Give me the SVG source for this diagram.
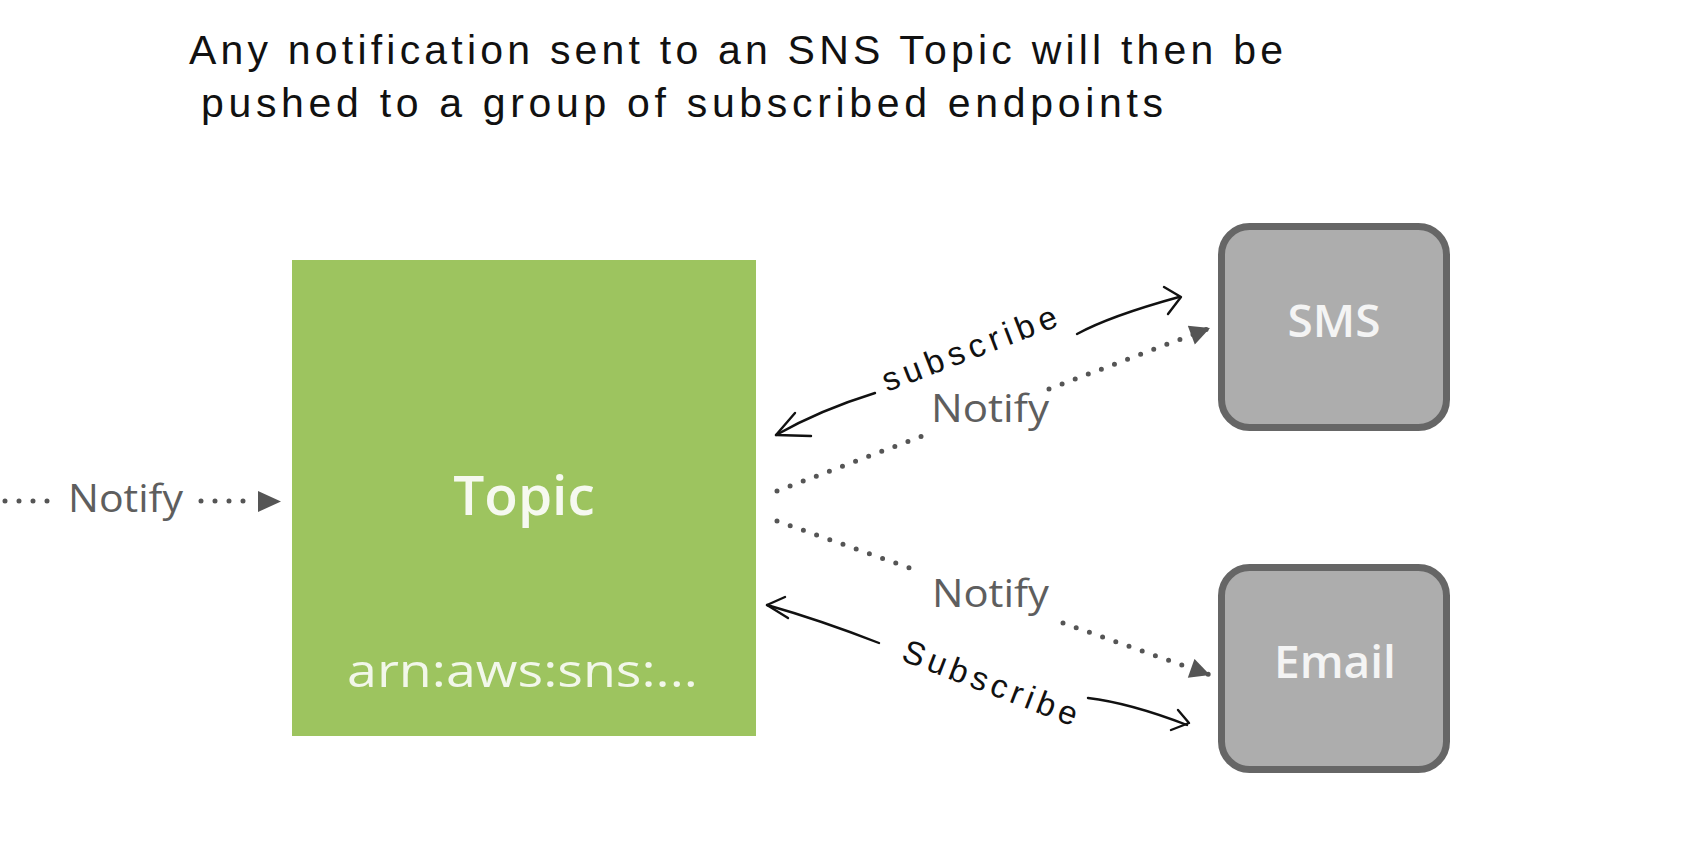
<svg xmlns="http://www.w3.org/2000/svg" width="1692" height="860" viewBox="0 0 1692 860">
<style>
.hand{font-family:"Liberation Sans",Arial,sans-serif;font-size:41px;fill:#111}
.sub{font-family:"Liberation Sans",Arial,sans-serif;font-size:33px;fill:#111}
.notify{font-family:"Open Sans","Liberation Sans",sans-serif;font-size:38px;fill:#5e5e5e}
.dots{stroke:#555;stroke-width:5;stroke-linecap:round;stroke-dasharray:0 14;fill:none}
.ink{stroke:#111;stroke-width:2.4;fill:none;stroke-linecap:round;stroke-linejoin:round}
.box{fill:#adadad;stroke:#666;stroke-width:7}
.boxlabel{font-family:"Open Sans","Liberation Sans",sans-serif;font-size:46px;font-weight:600;fill:#f4f4f4;text-anchor:middle}
</style>
<defs>
<marker id="tri" viewBox="0 0 10 10" refX="10" refY="5" markerUnits="userSpaceOnUse" markerWidth="22" markerHeight="20" orient="auto">
<path d="M0,0 L10,5 L0,10 z" fill="#555"/>
</marker>
</defs>
<rect width="1692" height="860" fill="#fff"/>
<g id="title">
<text class="hand" x="189" y="64" textLength="1094" lengthAdjust="spacing">Any notification sent to an SNS Topic will then be</text>
<text class="hand" x="201" y="117" textLength="962" lengthAdjust="spacing">pushed to a group of subscribed endpoints</text>
</g>
<g id="topic">
<rect x="292" y="260" width="464" height="476" fill="#9dc45f"/>
<text x="524" y="515" font-family="'Open Sans','Liberation Sans',sans-serif" font-size="55" font-weight="600" fill="#f6f9f0" text-anchor="middle">Topic</text>
<text x="347" y="687" textLength="351" lengthAdjust="spacingAndGlyphs" font-family="'Open Sans','Liberation Sans',sans-serif" font-size="46" fill="#f2f7ea">arn:aws:sns:...</text>
</g>
<g id="sms">
<rect class="box" x="1221.5" y="226.5" width="225" height="201" rx="28"/>
<text class="boxlabel" x="1334" y="337">SMS</text>
</g>
<g id="email">
<rect class="box" x="1221.5" y="567.5" width="225" height="202" rx="28"/>
<text class="boxlabel" x="1335" y="678">Email</text>
</g>
<g id="connectors">
<line class="dots" x1="5" y1="501" x2="50" y2="501"/>
<line class="dots" x1="201" y1="501" x2="247" y2="501"/>
<polygon points="258,491 281,501.5 258,512" fill="#555"/>
<text class="notify" x="68" y="512" textLength="115" lengthAdjust="spacingAndGlyphs">Notify</text>
<line class="dots" x1="777" y1="491" x2="925" y2="435"/>
<line class="dots" x1="1049" y1="389" x2="1210" y2="328" marker-end="url(#tri)"/>
<text class="notify" x="931" y="422" textLength="118" lengthAdjust="spacingAndGlyphs">Notify</text>
<line class="dots" x1="777" y1="521" x2="921" y2="572"/>
<line class="dots" x1="1063" y1="623" x2="1210" y2="675" marker-end="url(#tri)"/>
<text class="notify" x="932" y="607" textLength="117" lengthAdjust="spacingAndGlyphs">Notify</text>
<path class="ink" d="M776,435 Q820,410 875,393"/>
<path class="ink" d="M795,413 L776,435 L811,436"/>
<path class="ink" d="M1077,334 Q1110,316 1179,297"/>
<path class="ink" d="M1164,287 L1181,297 L1168,314"/>
<text class="sub" x="887" y="392" transform="rotate(-21 887 392)" textLength="185" lengthAdjust="spacing">subscribe</text>
<path class="ink" d="M767,605 Q820,620 879,643"/>
<path class="ink" d="M785,597 L767,605 L788,618"/>
<path class="ink" d="M1088,698 Q1130,703 1187,725"/>
<path class="ink" d="M1178,710 L1189,723 L1171,730"/>
<text class="sub" x="900" y="660" transform="rotate(21 900 660)" textLength="185" lengthAdjust="spacing">Subscribe</text>
</g>
</svg>
